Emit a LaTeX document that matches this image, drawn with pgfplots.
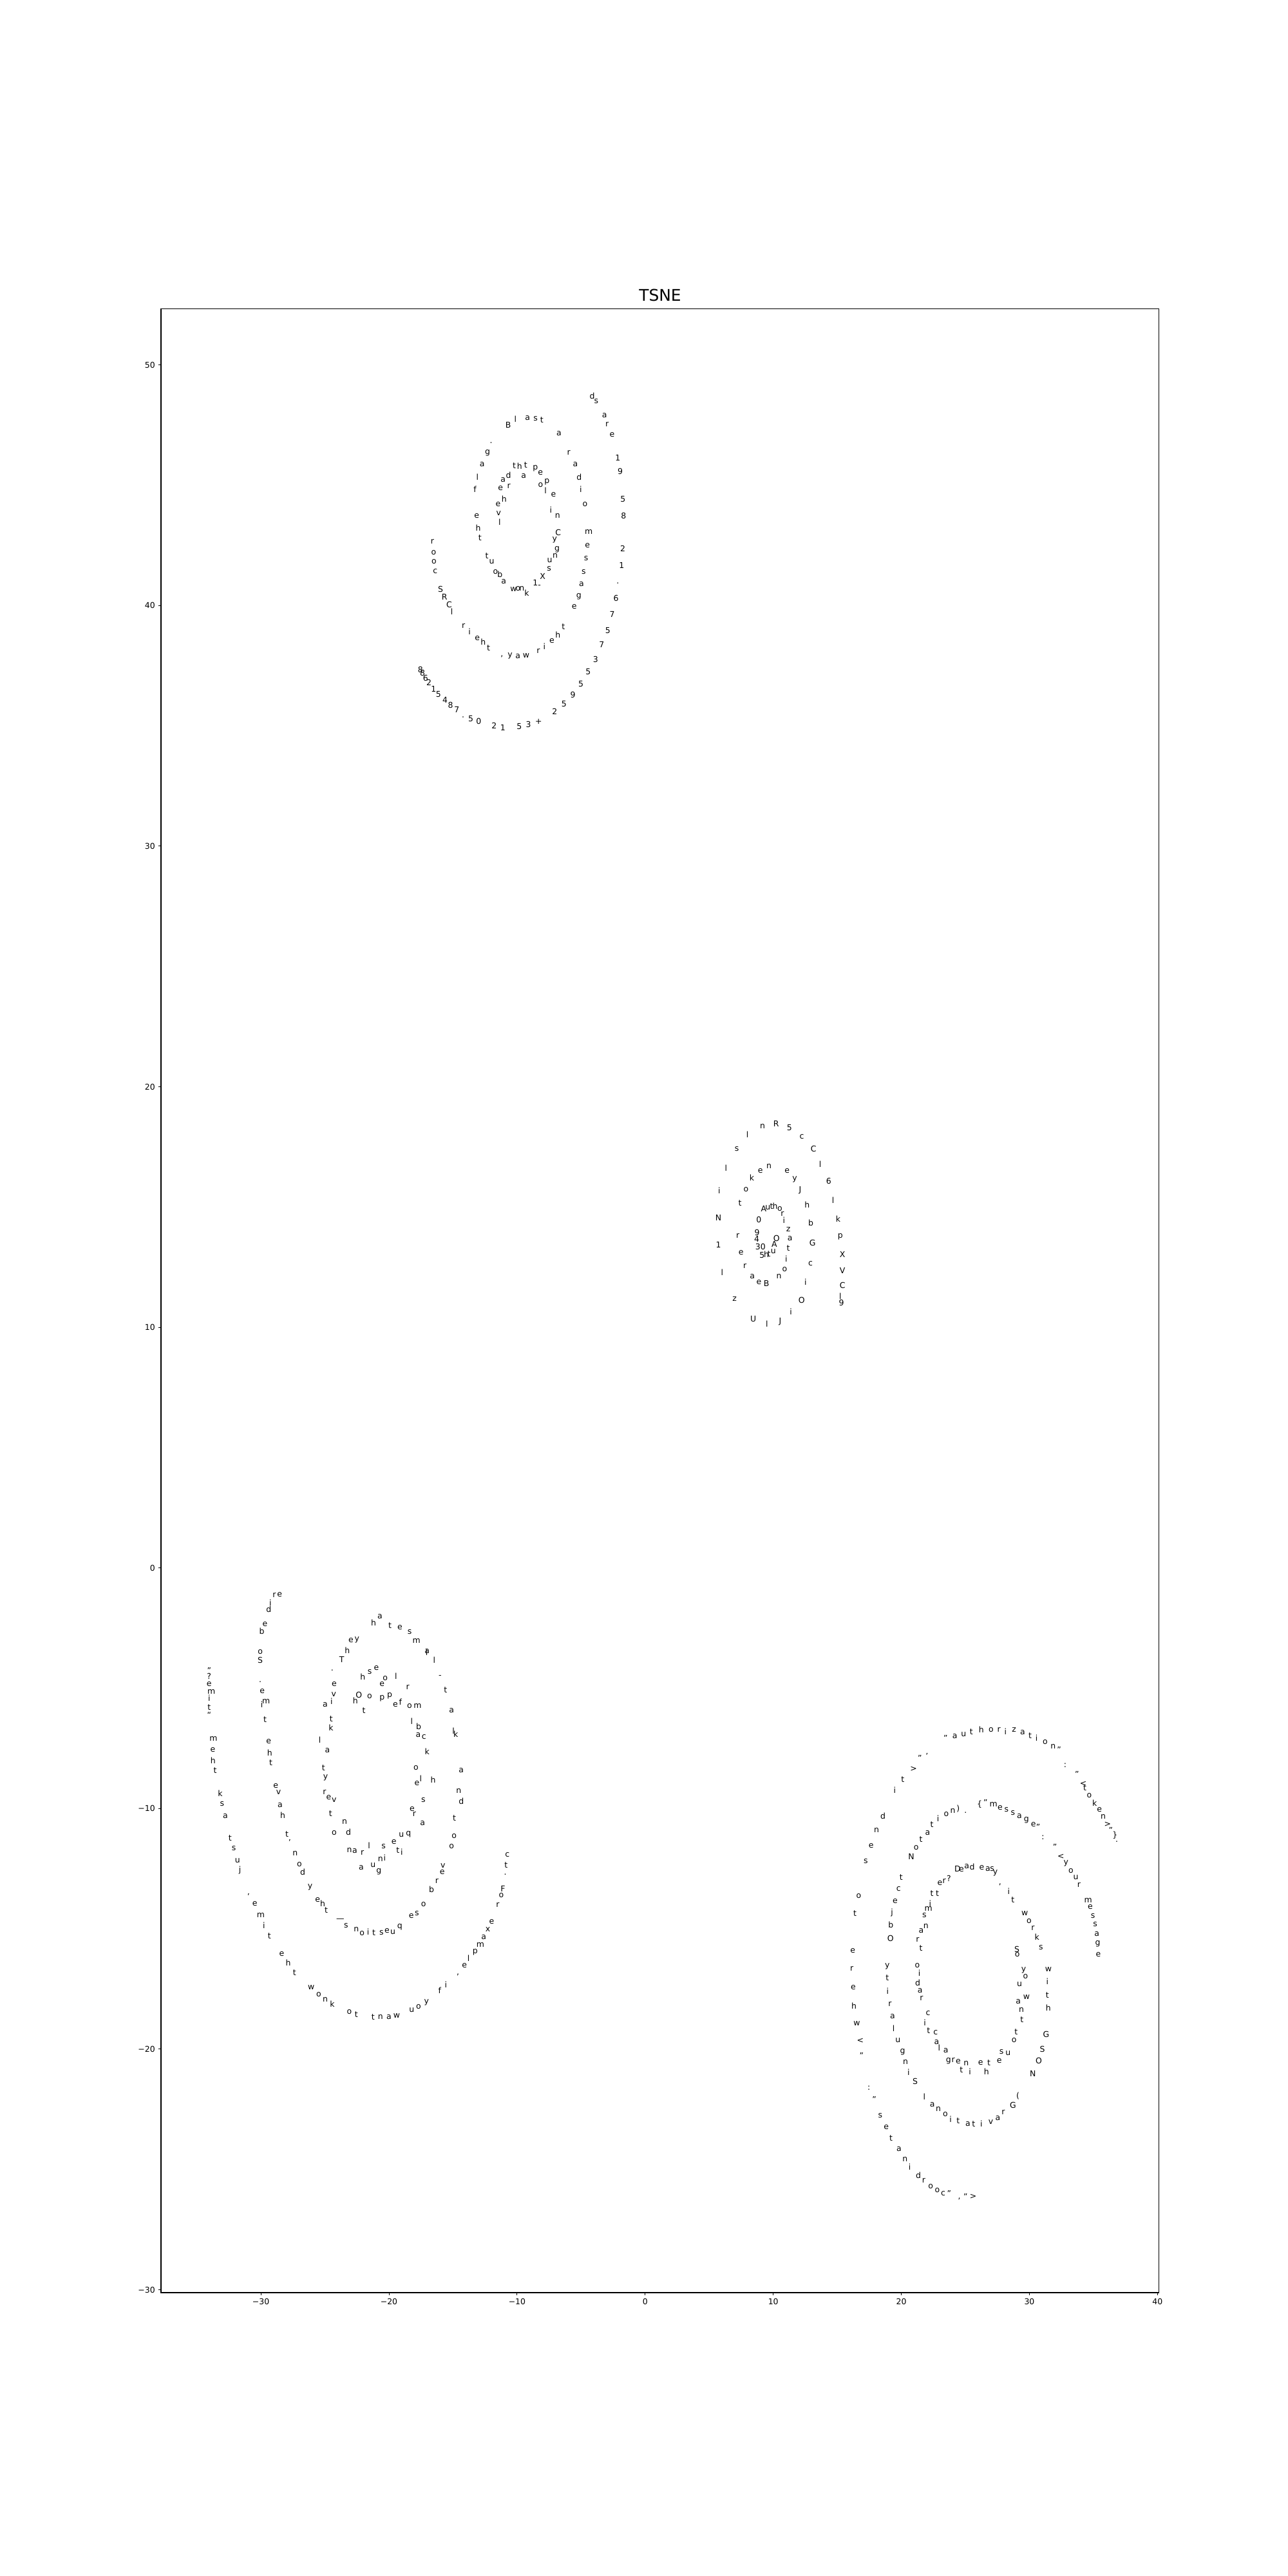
\documentclass[border=0pt]{standalone}
\usepackage{fontspec}
\setmainfont{DejaVu Sans}
\usepackage{pgfplots}
\usepackage{pgfplotstable}
\pgfplotsset{compat=1.18}
\pgfplotstableread{
x y c
-4.13 48.70 d
-3.82 48.48 s
-10.69 47.51 B
-10.13 47.76 l
-9.18 47.78 a
-8.56 47.76 s
-8.07 47.71 t
-3.17 47.90 a
-2.97 47.54 r
-2.58 47.10 e
-6.73 47.16 a
-12.03 46.76 .
-12.31 46.35 g
-5.97 46.35 r
-2.13 46.14 1
-12.73 45.86 a
-10.22 45.80 t
-9.80 45.80 h
-9.33 45.83 t
-8.57 45.71 p
-8.17 45.51 e
-5.45 45.86 a
-1.95 45.58 9
-13.10 45.34 l
-10.67 45.42 d
-11.09 45.21 a
-9.48 45.38 a
-5.15 45.34 d
-11.29 44.88 e
-10.64 44.95 r
-8.17 45.02 o
-7.67 45.13 p
-7.78 44.78 l
-7.16 44.62 e
-13.29 44.82 f
-5.02 44.82 i
-11.01 44.42 h
-11.48 44.21 e
-4.70 44.20 o
-1.73 44.42 5
-7.36 43.97 i
-6.84 43.72 n
-11.44 43.84 v
-11.36 43.46 l
-13.15 43.72 e
-1.68 43.73 8
-13.04 43.23 h
-12.90 42.81 t
-6.79 43.04 C
-4.41 43.06 m
-7.06 42.72 y
-4.51 42.50 e
-1.74 42.37 2
-6.88 42.34 g
-16.61 42.66 r
-16.51 42.21 o
-16.49 41.83 o
-12.36 42.06 t
-11.98 41.83 u
-7.45 41.89 u
-7.03 42.06 n
-4.61 41.95 s
-1.83 41.68 1
-16.39 41.43 c
-11.68 41.40 o
-11.34 41.29 b
-7.50 41.52 s
-4.80 41.40 s
-8.00 41.20 X
-11.04 41.00 a
-8.57 40.94 1
-8.25 40.80 -
-2.13 40.92 .
-4.97 40.89 a
-15.97 40.69 S
-10.27 40.67 w
-9.93 40.71 o
-9.63 40.71 n
-9.24 40.53 k
-15.67 40.36 R
-5.18 40.36 g
-2.28 40.31 6
-15.30 40.03 C
-15.10 39.75 l
-5.54 39.94 e
-2.58 39.64 7
-14.19 39.15 r
-13.71 38.91 i
-13.10 38.64 e
-12.65 38.48 h
-12.23 38.24 t
-11.19 37.88 ,
-10.55 37.90 y
-9.93 37.89 a
-9.29 37.92 w
-8.34 38.11 r
-7.87 38.30 i
-7.28 38.53 e
-6.81 38.78 h
-6.39 39.12 t
-2.92 38.97 5
-3.39 38.37 7
-3.87 37.77 3
-4.45 37.25 5
-5.02 36.74 5
-5.64 36.30 9
-6.34 35.92 5
-7.06 35.60 2
-8.32 35.18 +
-9.11 35.05 3
-9.83 34.98 5
-11.11 34.93 1
-11.79 35.00 2
-12.99 35.18 0
-13.61 35.30 5
-14.21 35.36 .
-14.71 35.67 7
-15.20 35.85 8
-15.62 36.07 4
-16.14 36.30 5
-16.51 36.54 1
-16.88 36.79 2
-17.15 36.99 6
-17.55 37.32 8
-17.38 37.19 8
9.16 18.35 n
10.22 18.46 R
11.26 18.31 5
7.99 18.01 l
12.23 17.92 c
7.15 17.41 s
13.14 17.43 C
13.66 16.79 l
6.31 16.63 l
9.00 16.51 e
9.67 16.70 n
11.08 16.51 e
8.33 16.23 k
11.68 16.16 y
14.33 16.07 6
5.78 15.68 i
7.87 15.74 o
12.10 15.69 J
14.67 15.29 l
7.40 15.16 t
9.25 14.93 A
9.58 14.98 u
9.87 15.02 t
10.14 15.04 h
10.51 14.92 o
10.71 14.71 r
12.64 15.09 h
5.72 14.56 N
8.88 14.46 0
10.84 14.44 i
12.94 14.33 b
15.07 14.51 k
11.18 14.07 z
8.74 13.95 9
7.23 13.79 r
8.71 13.66 4
10.25 13.69 O
11.31 13.69 a
15.24 13.76 p
5.72 13.42 1
10.09 13.46 A
8.80 13.35 3
9.20 13.35 0
13.07 13.51 G
11.18 13.28 t
10.00 13.17 u
7.49 13.11 e
15.40 13.04 X
9.13 12.99 5
9.47 13.02 h
9.67 13.04 t
11.01 12.84 i
12.91 12.66 c
7.79 12.55 r
10.89 12.42 o
15.40 12.37 V
6.01 12.28 l
8.36 12.11 a
10.45 12.11 n
8.88 11.86 e
9.47 11.83 B
12.52 11.88 i
15.40 11.74 C
15.24 11.28 l
15.32 11.01 9
6.98 11.17 z
12.22 11.14 O
11.38 10.64 i
8.44 10.34 U
9.50 10.14 l
10.54 10.25 J
-28.96 -1.14 r
-28.54 -1.10 e
-29.26 -1.46 i
-29.39 -1.73 d
-29.68 -2.33 e
-29.93 -2.64 b
-30.05 -3.49 o
-30.05 -3.84 S
-22.97 -3.01 e
-22.50 -3.00 y
-23.25 -3.42 h
-23.69 -3.80 T
-34.04 -4.26 ”
-34.04 -4.49 ?
-34.04 -4.83 e
-33.87 -5.14 m
-34.04 -5.40 i
-34.04 -5.80 t
-34.04 -6.12 “
-24.43 -4.26 .
-24.28 -4.83 e
-24.31 -5.25 v
-24.48 -5.54 i
-24.98 -5.69 a
-24.51 -6.28 t
-24.53 -6.65 k
-30.05 -4.74 .
-29.90 -5.11 e
-29.60 -5.56 m
-29.93 -5.67 i
-29.68 -6.30 t
-22.63 -5.51 h
-33.71 -7.10 m
-33.76 -7.56 e
-33.74 -8.01 h
-33.57 -8.42 t
-29.39 -7.21 e
-29.31 -7.68 h
-29.23 -8.10 t
-25.40 -7.14 l
-24.81 -7.59 a
-25.12 -8.30 t
-24.95 -8.71 y
-33.17 -9.38 k
-33.03 -9.82 s
-28.84 -9.06 e
-28.62 -9.33 v
-28.50 -9.87 a
-25.03 -9.33 r
-24.70 -9.55 e
-24.28 -9.64 v
-21.21 -2.27 h
-20.71 -2.02 a
-19.92 -2.39 t
-19.15 -2.48 e
-18.39 -2.66 s
-17.85 -3.02 m
-17.02 -3.46 a
-17.05 -3.50 l
-16.46 -3.82 l
-16.01 -4.51 -
-15.59 -5.07 t
-15.12 -5.92 a
-14.97 -6.77 l
-14.78 -6.90 k
-14.36 -8.41 a
-14.55 -9.27 n
-14.36 -9.69 d
-22.05 -4.53 h
-21.50 -4.31 s
-20.99 -4.17 e
-20.54 -4.83 e
-20.29 -4.58 o
-19.45 -4.50 l
-18.53 -4.96 r
-22.35 -5.27 O
-21.51 -5.34 o
-20.54 -5.43 p
-19.95 -5.32 p
-19.50 -5.69 e
-19.11 -5.57 f
-18.39 -5.74 o
-17.77 -5.74 m
-21.96 -5.94 t
-18.22 -6.37 l
-17.69 -6.59 b
-17.72 -6.94 a
-17.27 -7.03 c
-17.02 -7.64 k
-17.89 -8.30 o
-17.82 -8.96 e
-17.52 -8.75 l
-16.56 -8.80 h
-17.32 -9.64 s
-32.78 -10.31 a
-28.29 -10.29 h
-24.56 -10.20 t
-23.47 -10.56 n
-24.28 -11.00 o
-23.17 -10.97 d
-23.09 -11.73 n
-22.67 -11.75 a
-32.41 -11.22 t
-32.11 -11.66 s
-31.83 -12.15 u
-31.64 -12.55 j
-27.97 -11.06 t
-27.75 -11.40 ’
-27.33 -11.87 n
-26.99 -12.31 o
-26.74 -12.64 d
-26.16 -13.28 y
-25.57 -13.79 e
-25.18 -13.95 h
-24.90 -14.23 t
-30.97 -13.67 ’
-30.47 -13.96 e
-30.01 -14.44 m
-29.76 -14.85 i
-29.34 -15.30 t
-23.81 -14.63 —
-23.35 -14.87 s
-22.55 -15.03 n
-28.37 -16.04 e
-27.87 -16.42 h
-27.38 -16.82 t
-26.07 -17.44 w
-25.48 -17.73 o
-24.98 -17.93 n
-24.43 -18.13 k
-23.10 -18.44 o
-22.55 -18.57 t
-18.19 -10.02 e
-18.02 -10.22 r
-17.38 -10.62 a
-14.90 -10.41 t
-19.03 -11.09 u
-18.48 -11.07 q
-14.92 -11.15 o
-15.12 -11.58 o
-22.08 -11.84 r
-21.55 -11.55 l
-20.42 -11.58 s
-19.62 -11.39 e
-19.31 -11.73 t
-19.00 -11.80 i
-20.66 -12.11 n
-20.34 -12.04 i
-22.17 -12.47 a
-21.24 -12.36 u
-20.79 -12.61 g
-15.79 -12.37 v
-15.84 -12.64 e
-16.26 -13.03 r
-16.68 -13.36 b
-17.30 -13.98 o
-18.26 -14.47 e
-17.82 -14.36 s
-19.15 -14.92 q
-19.70 -15.14 u
-20.15 -15.08 e
-20.59 -15.15 s
-21.18 -15.17 t
-21.63 -15.12 i
-22.10 -15.18 o
-10.76 -11.93 c
-10.86 -12.36 t
-10.92 -12.73 .
-11.11 -13.34 F
-11.23 -13.62 o
-11.51 -14.01 r
-11.98 -14.70 e
-12.28 -15.03 x
-12.60 -15.35 a
-12.87 -15.68 m
-13.27 -15.97 p
-13.79 -16.21 l
-14.11 -16.53 e
-14.62 -16.91 ,
-15.56 -17.33 i
-16.04 -17.56 f
-17.07 -18.05 y
-17.69 -18.23 o
-18.22 -18.36 u
-19.40 -18.60 w
-20.00 -18.66 a
-20.66 -18.67 n
-21.24 -18.67 t
23.46 -7.08 "
24.18 -7.01 a
24.86 -6.92 u
25.47 -6.81 t
21.45 -7.90 "
22.00 -7.81 ’
20.96 -8.36 >
20.11 -8.79 t
19.48 -9.24 i
24.44 -10.02 )
25.02 -10.17 .
24.02 -10.09 n
23.51 -10.24 o
22.87 -10.41 i
22.39 -10.66 t
22.05 -11.00 a
21.53 -11.27 t
21.16 -11.63 o
20.78 -11.99 N
18.56 -10.31 d
18.06 -10.91 n
17.64 -11.54 e
17.22 -12.18 s
24.39 -12.50 D
24.69 -12.54 e
25.11 -12.40 a
25.53 -12.43 d
23.01 -13.10 e
23.35 -13.03 r
23.71 -12.90 ?
22.39 -13.52 t
22.81 -13.52 t
22.25 -13.95 i
22.12 -14.17 m
21.80 -14.43 s
21.55 -15.07 a
21.92 -14.88 n
21.28 -15.44 r
21.53 -15.81 t
19.99 -12.87 t
19.79 -13.33 c
19.52 -13.86 e
19.27 -14.32 j
19.18 -14.84 b
19.15 -15.39 O
16.67 -13.63 o
16.38 -14.35 t
16.21 -15.91 e
16.13 -16.66 r
18.90 -16.55 y
18.90 -17.04 t
18.93 -17.60 i
19.11 -18.14 r
19.31 -18.65 a
19.40 -19.14 l
19.74 -19.63 u
20.10 -20.12 g
20.32 -20.55 n
20.57 -20.95 i
21.08 -21.34 S
21.25 -16.53 o
21.41 -16.84 i
21.28 -17.25 d
21.46 -17.58 a
21.58 -17.89 r
22.09 -18.50 c
21.83 -18.89 i
22.12 -19.23 t
22.67 -19.32 c
22.76 -19.72 a
22.96 -19.94 l
23.48 -20.05 a
23.68 -20.48 g
24.05 -20.46 r
24.44 -20.51 e
25.07 -20.58 n
24.69 -20.85 t
25.36 -20.92 i
16.25 -17.44 e
16.30 -18.20 h
16.52 -18.94 w
16.80 -19.66 <
16.89 -20.26 "
17.47 -21.61 :
17.89 -22.08 "
18.35 -22.75 s
18.82 -23.25 e
19.20 -23.71 t
19.82 -24.16 a
20.29 -24.58 n
20.66 -24.89 i
21.33 -25.25 d
21.75 -25.47 r
22.29 -25.70 o
22.81 -25.87 o
23.26 -26.01 c
23.73 -26.01 "
24.52 -26.23 ,
25.02 -26.14 "
25.61 -26.14 >
21.80 -21.99 l
22.42 -22.31 a
22.89 -22.48 n
23.43 -22.71 o
23.85 -22.91 i
24.44 -22.97 t
25.19 -23.11 a
25.64 -23.11 t
26.25 -6.72 h
27.00 -6.74 o
27.62 -6.74 r
28.13 -6.79 i
28.80 -6.72 z
29.47 -6.83 a
30.06 -6.96 t
30.56 -7.08 i
31.23 -7.23 o
31.85 -7.41 n
32.32 -7.55 "
32.79 -8.21 :
33.71 -8.57 "
34.20 -8.97 <
34.33 -9.15 t
34.67 -9.46 o
35.09 -9.78 k
35.46 -10.06 e
35.76 -10.33 n
36.10 -10.67 >
36.35 -10.89 "
36.82 -11.38 .
26.58 -9.75 "
27.20 -9.82 m
27.71 -9.96 e
28.21 -10.04 s
28.71 -10.18 s
29.22 -10.31 a
29.77 -10.47 g
30.31 -10.67 e
30.69 -10.76 "
31.06 -11.20 :
31.99 -11.60 "
32.46 -11.99 <
32.86 -12.27 y
33.24 -12.58 o
33.63 -12.85 u
33.87 -13.17 r
34.59 -13.83 m
34.75 -14.10 e
34.96 -14.46 s
35.14 -14.82 s
35.26 -15.22 a
35.34 -15.62 g
35.38 -16.07 e
26.28 -12.45 e
26.75 -12.52 a
27.09 -12.52 s
27.34 -12.68 y
27.71 -13.17 ,
28.38 -13.43 i
28.71 -13.79 t
29.64 -14.37 w
29.97 -14.67 o
30.27 -14.98 r
30.59 -15.35 k
30.90 -15.77 s
29.02 -15.84 S
29.05 -16.07 o
29.55 -16.73 y
29.69 -16.98 o
29.22 -17.31 u
31.48 -16.69 w
31.40 -17.18 i
31.40 -17.76 t
31.48 -18.29 h
29.13 -18.02 a
29.77 -17.85 w
29.38 -18.38 n
29.41 -18.78 t
28.96 -19.27 t
28.80 -19.63 o
27.82 -20.12 s
28.33 -20.16 u
27.65 -20.49 e
26.19 -20.58 e
26.83 -20.57 t
26.65 -20.94 h
31.31 -19.39 G
31.01 -20.01 S
30.73 -20.49 O
30.26 -21.03 N
29.10 -21.95 (
28.71 -22.33 G
27.96 -22.62 r
27.54 -22.88 a
26.99 -23.02 v
26.25 -23.11 i
}\chars
\begin{document}
\begin{tikzpicture}
\begin{axis}[
  at={(0,0)}, anchor=south west,
  scale only axis, width=15.5in, height=30.8in,
  xmin=-37.80, xmax=40.13, ymin=-30.12, ymax=52.32,
  xtick={-30,-20,-10,0,10,20,30,40},
  xticklabels={−30,−20,−10,0,10,20,30,40},
  ytick={-30,-20,-10,0,10,20,30,40,50},
  yticklabels={−30,−20,−10,0,10,20,30,40,50},
  tick align=outside, xtick pos=left, ytick pos=left,
  major tick length=3.2pt,
  tick style={black, line width=0.75pt},
  axis line style={line width=0.75pt},
  ticklabel style={font=\fontsize{9}{11}\selectfont},
  title={TSNE},
  title style={at={(0.5,1)}, anchor=base, yshift=3pt, inner sep=0pt, font=\fontsize{18}{21}\selectfont},
]
\addplot[only marks, mark=none, nodes near coords, point meta=explicit symbolic,
  every node near coord/.append style={anchor=center, inner sep=0pt, text=black, font=\fontsize{9}{11}\selectfont}]
  table[x=x, y=y, meta=c] {\chars};
\addplot[only marks, mark=none, nodes near coords={\{},
  every node near coord/.append style={anchor=center, inner sep=0pt, text=black, font=\fontsize{9}{11}\selectfont}]
  coordinates {(26.11,-9.82)};
\addplot[only marks, mark=none, nodes near coords={\}},
  every node near coord/.append style={anchor=center, inner sep=0pt, text=black, font=\fontsize{9}{11}\selectfont}]
  coordinates {(36.68,-11.11)};
\end{axis}
\path (-2.5in,-4.4in) rectangle (17.5in,35.6in);
\end{tikzpicture}
\end{document}
